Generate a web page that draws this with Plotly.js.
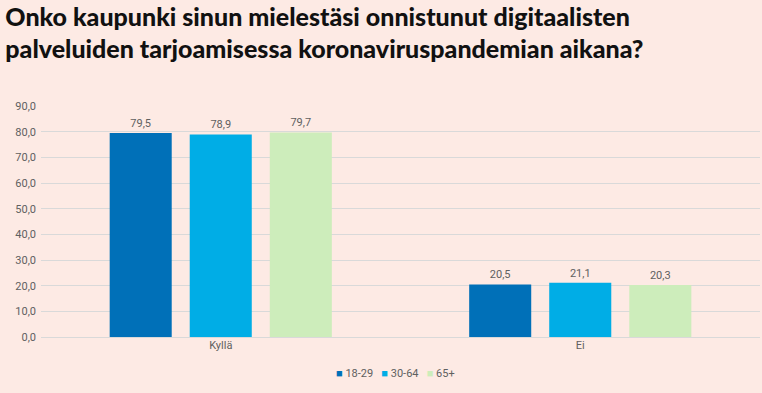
<!DOCTYPE html>
<html><head><meta charset="utf-8">
<script src="https://cdn.plot.ly/plotly-3.0.1.min.js"></script>
<style>html,body{margin:0;padding:0;background:#fdeae4;}</style>
</head><body>
<div id="chart" style="width:762px;height:393px;"></div>
<script>
const categories = ["Kyllä", "Ei"];
const seriesNames = ["18-29", "30-64", "65+"];
const values_18_29 = [79.5, 20.5];
const values_30_64 = [78.9, 21.1];
const values_65 = [79.7, 20.3];
const colors = ["#0070b8", "#00ade6", "#cdedbb"];
const allValues = [values_18_29, values_30_64, values_65];
const yTickVals = [0,10,20,30,40,50,60,70,80,90];
const yTickText = yTickVals.map(v => v.toFixed(1).replace('.', ','));

const traces = allValues.map((vals, i) => ({
  type: 'bar',
  name: seriesNames[i],
  x: categories,
  y: vals,
  marker: {color: colors[i]},
  text: vals.map(v => v.toFixed(1).replace('.', ',')),
  textposition: 'outside',
  cliponaxis: false,
  textfont: {family: 'Roboto, sans-serif', size: 11, color: '#606060'},
  hoverinfo: 'none',
  showlegend: false
}));

const legendText = seriesNames.map((n, i) =>
  "<span style='color:" + colors[i] + "'>■</span> " + n).join("&nbsp;&nbsp;&nbsp;");

const layout = {
  width: 762, height: 393,
  paper_bgcolor: '#fdeae4',
  plot_bgcolor: '#fdeae4',
  margin: {l: 41, r: 2, t: 106, b: 56},
  barmode: 'group',
  bargap: 0.332,
  bargroupgap: 0.225,
  title: {
    text: 'Onko kaupunki sinun mielestäsi onnistunut digitaalisten<br>palveluiden tarjoamisessa koronaviruspandemian aikana?',
    x: 0.007, xanchor: 'left', y: 0.935, yanchor: 'top',
    font: {family: 'Lato, sans-serif', size: 25, color: '#111111', weight: 900}
  },
  xaxis: {
    showgrid: false, zeroline: false,
    showline: false,
    tickfont: {family: 'Roboto, sans-serif', size: 11, color: '#606060'},
    ticks: '', ticklen: 0
  },
  yaxis: {
    range: [0, 90],
    tickvals: yTickVals, ticktext: yTickText,
    showgrid: true, gridcolor: '#d9d9d9', gridwidth: 1,
    zeroline: true, zerolinecolor: '#d9d9d9', zerolinewidth: 1,
    tickfont: {family: 'Roboto, sans-serif', size: 11, color: '#606060'},
    ticks: '', ticklabelstandoff: 4
  },
  showlegend: false,
  annotations: [{
    text: legendText,
    xref: 'paper', yref: 'paper',
    x: 0.493, xanchor: 'center',
    y: -0.16, yanchor: 'middle',
    showarrow: false,
    font: {family: 'Roboto, sans-serif', size: 11, color: '#606060'}
  }]
};

Plotly.newPlot('chart', traces, layout, {displayModeBar: false, staticPlot: true});
</script>
</body></html>
